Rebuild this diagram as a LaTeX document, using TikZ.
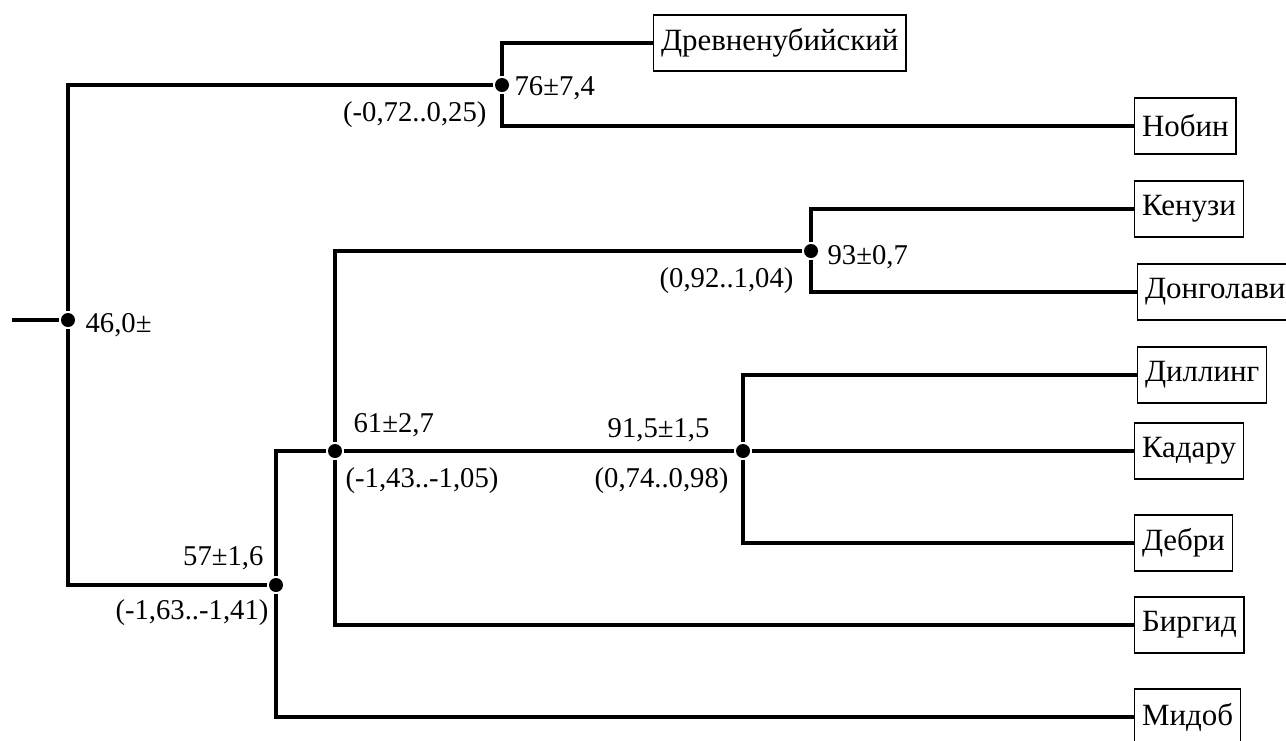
\documentclass[tikz,border=0pt]{standalone}
\usepackage{fontspec}
\setmainfont{Liberation Serif}
\begin{document}
\begin{tikzpicture}[x=0.75pt,y=-0.75pt,line width=2.4pt,
    font=\fontsize{21.5}{26}\selectfont,
    branch node/.style={circle,draw=none,fill=black,inner sep=0pt,minimum size=10.5pt},
    lang node/.style={draw,line width=1pt,anchor=west,inner xsep=5.5pt,minimum height=42pt,
      font=\fontsize{23.2}{28}\selectfont},
    est node/.style={inner sep=0pt} ]
    \useasboundingbox (0,0) rectangle (1286,740);
    \coordinate (start) at (12,320);
    \node at (68,320) [branch node] (R) {};
    \node at (502,85) [branch node] (A) {};
    \node at (276,585) [branch node] (B) {};
    \node at (335,451) [branch node] (C) {};
    \node at (811,251) [branch node] (D) {};
    \node at (743,451) [branch node] (E) {};
    \node at (653,43) [lang node] (drevn) {Древненубийский};
    \node at (1134,126) [lang node] (nobin) {Нобин};
    \node at (1134,209) [lang node] (kenuzi) {Кенузи};
    \node at (1137,292) [lang node] (dongol) {Донголави};
    \node at (1137,375) [lang node] (dilling) {Диллинг};
    \node at (1134,451) [lang node] (kadaru) {Кадару};
    \node at (1134,543) [lang node] (debri) {Дебри};
    \node at (1134,625) [lang node] (birgid) {Биргид};
    \node at (1134,717) [lang node] (midob) {Мидоб};
    \node at (84,332) [est node,anchor=base west] (R1) {46,0±};
    \node at (513,95) [est node,anchor=base west] (A1) {76±7,4};
    \node at (488,121) [est node,anchor=base east] (A2) {(-0,72..0,25)};
    \node at (265,565) [est node,anchor=base east] (B1) {57±1,6};
    \node at (270,619) [est node,anchor=base east] (B2) {(-1,63..-1,41)};
    \node at (352,432) [est node,anchor=base west] (C1) {61±2,7};
    \node at (344,487) [est node,anchor=base west] (C2) {(-1,43..-1,05)};
    \node at (826,264) [est node,anchor=base west] (D1) {93±0,7};
    \node at (795,287) [est node,anchor=base east] (D2) {(0,92..1,04)};
    \node at (711,437) [est node,anchor=base east] (E1) {91,5±1,5};
    \node at (730,487) [est node,anchor=base east] (E2) {(0,74..0,98)};
    \draw [-] (start) to (R);
    \draw [-] (R) |- (A);
    \draw [-] (R) |- (B);
    \draw [-] (A) |- (drevn);
    \draw [-] (A) |- (nobin);
    \draw [-] (B) |- (C);
    \draw [-] (B) |- (midob);
    \draw [-] (C) |- (D);
    \draw [-] (C) to (E);
    \draw [-] (C) |- (birgid);
    \draw [-] (D) |- (kenuzi);
    \draw [-] (D) |- (dongol);
    \draw [-] (E) |- (dilling);
    \draw [-] (E) to (kadaru);
    \draw [-] (E) |- (debri);
\end{tikzpicture}
\end{document}
